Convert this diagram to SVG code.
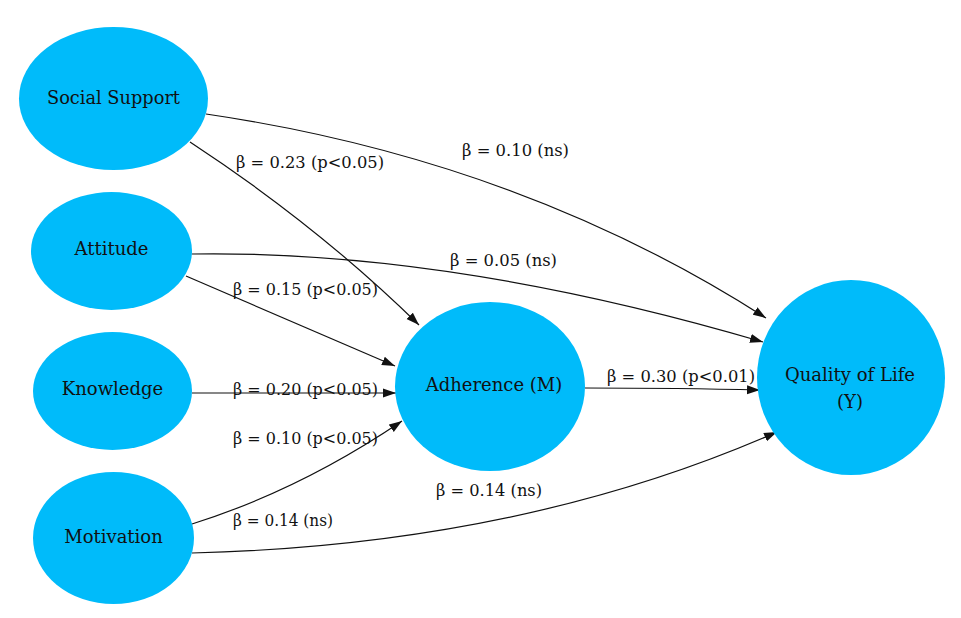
<svg xmlns="http://www.w3.org/2000/svg" width="961" height="618" viewBox="0 0 961 618">
<style>
.node{fill:#00BBFA;}
.nt{font-family:"DejaVu Serif","Liberation Serif",serif;font-size:18px;fill:#111;text-anchor:middle;}
.lbl{font-family:"DejaVu Serif","Liberation Serif",serif;font-size:16.5px;fill:#111;}
.edge{fill:none;stroke:#111;stroke-width:1.2;marker-end:url(#arr);}
</style>
<defs>
<marker id="arr" markerUnits="userSpaceOnUse" markerWidth="14" markerHeight="10" refX="13" refY="5" orient="auto">
<path d="M0,0.5 L13,5 L0,9.5 Z" fill="#111"/>
</marker>
</defs>
<rect width="961" height="618" fill="#fff"/>
<g id="connectors">
<path class="edge" d="M206,114 Q520,160 766,318"/>
<path class="edge" d="M190,142 Q318,226 419,325"/>
<path class="edge" d="M192,254 Q450,250 763,342"/>
<path class="edge" d="M186,276 L395,366"/>
<path class="edge" d="M192,393 L396,393"/>
<path class="edge" d="M192,524 Q300,490 402,421"/>
<path class="edge" d="M192,553 Q520,545 777,432"/>
<path class="edge" d="M585,388 Q680,388 760,390"/>
</g>
<g id="node-social-support"><ellipse class="node" cx="113.5" cy="98.5" rx="94.5" ry="71.5"/><text class="nt" x="113.5" y="104" textLength="133" lengthAdjust="spacingAndGlyphs">Social Support</text></g>
<g id="node-attitude"><ellipse class="node" cx="111.5" cy="251" rx="80.5" ry="59"/><text class="nt" x="111.5" y="255">Attitude</text></g>
<g id="node-knowledge"><ellipse class="node" cx="112.5" cy="391" rx="79.5" ry="59"/><text class="nt" x="112.5" y="395">Knowledge</text></g>
<g id="node-motivation"><ellipse class="node" cx="113.5" cy="538" rx="80.5" ry="66"/><text class="nt" x="113.5" y="543">Motivation</text></g>
<g id="node-adherence"><ellipse class="node" cx="490" cy="386.5" rx="95" ry="84.5"/><text class="nt" x="494" y="391">Adherence (M)</text></g>
<g id="node-quality-of-life"><ellipse class="node" cx="851" cy="377.5" rx="94" ry="97.5"/><text class="nt" x="850" y="381">Quality of Life</text><text class="nt" x="850" y="408">(Y)</text></g>
<g id="labels">
<text class="lbl" x="236" y="168" textLength="148" lengthAdjust="spacingAndGlyphs">β = 0.23 (p&lt;0.05)</text>
<text class="lbl" x="462" y="156" textLength="107" lengthAdjust="spacingAndGlyphs">β = 0.10 (ns)</text>
<text class="lbl" x="450" y="266" textLength="107" lengthAdjust="spacingAndGlyphs">β = 0.05 (ns)</text>
<text class="lbl" x="233" y="295" textLength="145" lengthAdjust="spacingAndGlyphs">β = 0.15 (p&lt;0.05)</text>
<text class="lbl" x="233" y="395" textLength="145" lengthAdjust="spacingAndGlyphs">β = 0.20 (p&lt;0.05)</text>
<text class="lbl" x="233" y="444" textLength="145" lengthAdjust="spacingAndGlyphs">β = 0.10 (p&lt;0.05)</text>
<text class="lbl" x="233" y="526" textLength="100" lengthAdjust="spacingAndGlyphs">β = 0.14 (ns)</text>
<text class="lbl" x="436" y="496" textLength="106" lengthAdjust="spacingAndGlyphs">β = 0.14 (ns)</text>
<text class="lbl" x="607" y="382" textLength="148" lengthAdjust="spacingAndGlyphs">β = 0.30 (p&lt;0.01)</text>
</g>
</svg>
